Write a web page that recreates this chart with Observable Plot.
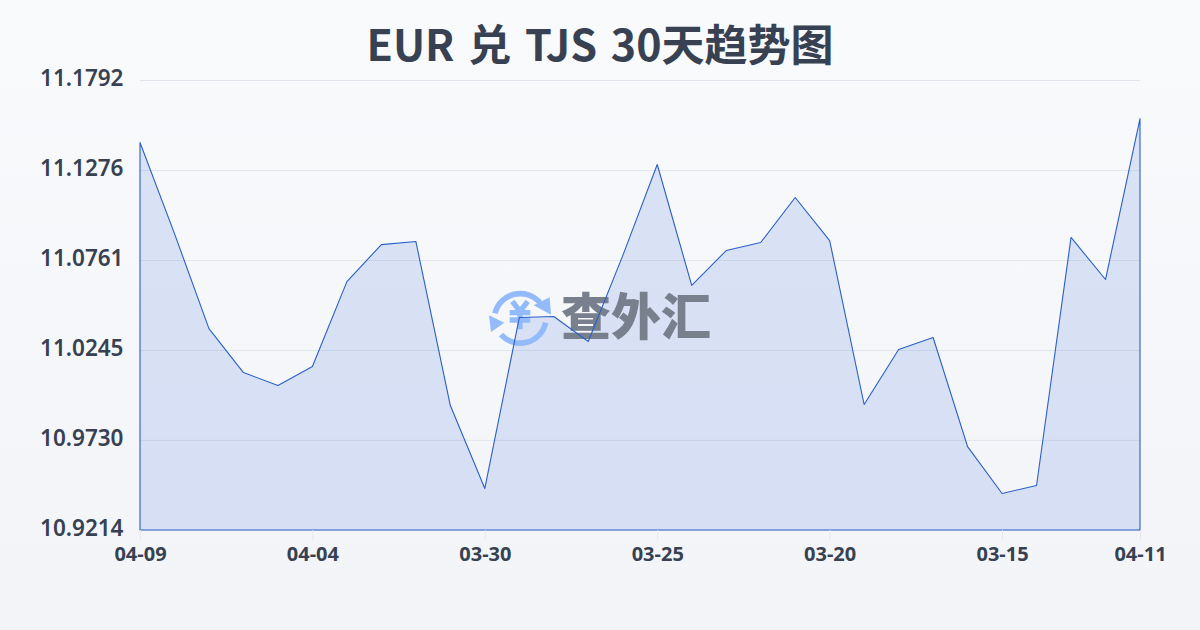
<!DOCTYPE html>
<html lang="zh">
<head>
<meta charset="utf-8">
<script src="https://cdn.jsdelivr.net/npm/d3@7"></script>
<script src="https://cdn.jsdelivr.net/npm/@observablehq/plot@0.6"></script>
<style>
html,body{margin:0;padding:0}
body{width:1200px;height:630px;overflow:hidden;position:relative;background:linear-gradient(180deg,#f8fafc 0%,#f2f4f7 100%);font-family:"Noto Sans","Noto Sans CJK SC",sans-serif}
h1{margin:0;box-sizing:border-box;height:60px;line-height:56px;padding-top:14px;text-align:center;font-size:43px;font-weight:700;color:#374151;font-family:"Noto Sans CJK SC",sans-serif;white-space:nowrap;word-spacing:4px;position:relative;z-index:2}
#chart{position:absolute;left:0;top:60px;z-index:1}
#chart svg{background:transparent;display:block;overflow:visible}
</style>
</head>
<body>
<h1>EUR 兑 TJS 30天趋势图</h1>
<div id="chart"></div>
<script>
const dates = ["04-09","04-08","04-07","04-06","04-05","04-04","04-03","04-02","04-01","03-31","03-30","03-29","03-28","03-27","03-26","03-25","03-24","03-23","03-22","03-21","03-20","03-19","03-18","03-17","03-16","03-15","03-14","03-13","03-12","04-11"];
const rates = [11.1434,11.0912,11.0368,11.0116,11.0042,11.0151,11.0637,11.0849,11.0867,10.9927,10.9452,11.0431,11.0437,11.0294,11.0786,11.1308,11.0615,11.0815,11.0861,11.1119,11.0872,10.9933,11.0248,11.0317,10.9692,10.9423,10.9469,11.0890,11.0649,11.1571];
const yTicks = [10.9214,10.9730,11.0245,11.0761,11.1276,11.1792];
const xTicks = ["04-09","04-04","03-30","03-25","03-20","03-15","04-11"];
const baseline = 10.9214;
const rows = dates.map((d,i)=>({date:d,rate:rates[i]}));

function logo(){
  const tmp = document.createElementNS("http://www.w3.org/2000/svg","g");
  tmp.setAttribute("text-anchor","start");
  tmp.innerHTML = `
    <svg x="485" y="220" width="75" height="70" viewBox="0 0 225 210">
      <g fill="none" stroke="#93bbfb" stroke-width="17">
        <path d="M30 100 A78 78 0 0 1 165 68"/>
        <path d="M182 128 A78 78 0 0 1 48 164"/>
      </g>
      <path d="M146 76 L194 52 L198 104 Z" fill="#93bbfb"/>
      <path d="M12 106 L58 128 L18 156 Z" fill="#93bbfb"/>
      <g fill="none" stroke="#93bbfb" stroke-width="16">
        <path d="M82 64 L105 94 L128 64"/>
        <path d="M74 98 H136 M74 120 H136 M105 94 V148"/>
      </g>
    </svg>
    <text x="561" y="275" font-size="50" font-weight="900" fill="#787f8d" font-family="Noto Sans CJK SC">查外汇</text>`;
  return tmp;
}

const plot = Plot.plot({
  width:1200,height:570,
  marginLeft:140,marginRight:60,marginTop:20,marginBottom:100,
  style:{background:"transparent",overflow:"visible"},
  x:{type:"point",domain:dates,padding:0,round:false,label:null},
  y:{domain:[baseline,yTicks[yTicks.length-1]],label:null},
  marks:[
    Plot.gridY(yTicks,{stroke:"#e2e6ec",strokeOpacity:1,strokeWidth:1}),
    Plot.areaY(rows,{x:"date",y1:baseline,y2:"rate",fill:"#2a5cdc",fillOpacity:0.14,curve:"linear"}),
    logo,
    Plot.areaY(rows,{x:"date",y1:baseline,y2:"rate",fill:"none",stroke:"#2b5fc7",strokeWidth:1.1,curve:"linear"}),
    Plot.axisY(yTicks,{tickSize:0,tickPadding:0,dx:-17,dy:-2,fontSize:22.5,fontWeight:600,fill:"#374151",tickFormat:d=>d.toFixed(4),label:null}),
    Plot.axisX(xTicks,{tickSize:10,stroke:"#e5e7eb",tickPadding:6,fontSize:20,fontWeight:700,fill:"#374151",label:null})
  ]
});
document.getElementById("chart").appendChild(plot);
</script>
</body>
</html>
